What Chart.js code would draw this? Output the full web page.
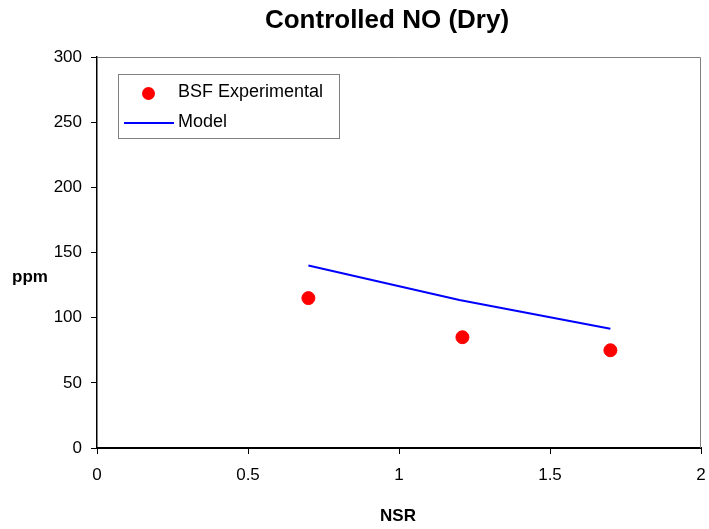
<!DOCTYPE html>
<html>
<head>
<meta charset="utf-8">
<script src="https://cdn.jsdelivr.net/npm/chart.js@4/dist/chart.umd.min.js"></script>
<style>
  html, body { margin: 0; padding: 0; background: #fff; }
  #wrap { width: 709px; height: 529px; }
</style>
</head>
<body>
<div id="wrap"><canvas id="chart" width="709" height="529"></canvas></div>
<script>
  // data
  const expNSR = [0.7, 1.21, 1.7];
  const expPPM = [115, 85, 75];
  const modelNSR = [0.7, 1.2, 1.7];
  const modelPPM = [140, 113.5, 91.5];
  const xTicks = [0, 0.5, 1, 1.5, 2];
  const xTickLabels = ['0', '0.5', '1', '1.5', '2'];
  const yTicks = [0, 50, 100, 150, 200, 250, 300];
  const yTickLabels = ['0', '50', '100', '150', '200', '250', '300'];

  const FONT = 'Arial, "Liberation Sans", sans-serif';

  // title, axis titles, frame and the boxed legend
  const decorations = {
    id: 'decorations',
    beforeDatasetsDraw(chart) {
      const ctx = chart.ctx;
      const a = chart.chartArea;
      ctx.save();
      ctx.strokeStyle = '#808080';
      ctx.lineWidth = 1;
      ctx.beginPath();
      ctx.moveTo(a.left, a.top + 0.5);
      ctx.lineTo(a.right - 0.5, a.top + 0.5);
      ctx.lineTo(a.right - 0.5, a.bottom);
      ctx.stroke();
      ctx.restore();
    },
    afterDraw(chart) {
      const ctx = chart.ctx;
      ctx.save();
      ctx.fillStyle = '#000';
      ctx.textBaseline = 'middle';

      ctx.font = 'bold 26px ' + FONT;
      ctx.textAlign = 'center';
      ctx.fillText('Controlled NO (Dry)', 387, 21);

      ctx.font = 'bold 17px ' + FONT;
      ctx.fillText('NSR', 398, 516);
      ctx.textAlign = 'left';
      ctx.fillText('ppm', 12, 277);

      // legend box
      ctx.fillStyle = '#fff';
      ctx.fillRect(118.5, 74.5, 221, 64);
      ctx.strokeStyle = '#808080';
      ctx.lineWidth = 1;
      ctx.strokeRect(118.5, 74.5, 221, 64);

      const ds = chart.data.datasets;
      ctx.fillStyle = ds[0].backgroundColor;
      ctx.beginPath();
      ctx.arc(148.5, 93.5, 6.5, 0, Math.PI * 2);
      ctx.fill();

      ctx.strokeStyle = ds[1].borderColor;
      ctx.lineWidth = 2;
      ctx.beginPath();
      ctx.moveTo(124, 123);
      ctx.lineTo(174, 123);
      ctx.stroke();

      ctx.fillStyle = '#000';
      ctx.font = '18px ' + FONT;
      ctx.fillText(ds[0].label, 178, 92);
      ctx.fillText(ds[1].label, 178, 122);
      ctx.restore();
    }
  };

  new Chart(document.getElementById('chart'), {
    type: 'scatter',
    data: {
      datasets: [{
        label: 'BSF Experimental',
        data: expNSR.map((x, i) => ({ x: x, y: expPPM[i] })),
        backgroundColor: '#ff0000',
        borderColor: '#ff0000',
        pointRadius: 6.5,
        showLine: false
      }, {
        label: 'Model',
        data: modelNSR.map((x, i) => ({ x: x, y: modelPPM[i] })),
        borderColor: '#0000ff',
        backgroundColor: '#0000ff',
        borderWidth: 2,
        pointRadius: 0,
        showLine: true,
        tension: 0
      }]
    },
    options: {
      responsive: false,
      animation: false,
      layout: { padding: { top: 57, right: 8, left: 0, bottom: 0 } },
      plugins: {
        legend: { display: false },
        title: { display: false },
        tooltip: { enabled: false }
      },
      scales: {
        x: {
          type: 'linear',
          min: 0,
          max: 2,
          afterBuildTicks: s => { s.ticks = xTicks.map(v => ({ value: v })); },
          afterFit: s => { s.height = 81; s.paddingRight = 0; s.paddingLeft = 0; },
          grid: { drawOnChartArea: false, tickLength: 6, color: '#000' },
          border: { color: '#000', width: 2 },
          ticks: {
            color: '#000', font: { family: FONT, size: 17 }, padding: 11, maxRotation: 0,
            callback: (v, i) => xTickLabels[i]
          }
        },
        y: {
          type: 'linear',
          min: 0,
          max: 300,
          afterBuildTicks: s => { s.ticks = yTicks.map(v => ({ value: v })); },
          afterFit: s => { s.width = 97; },
          grid: { drawOnChartArea: false, tickLength: 6, color: '#000' },
          border: { color: '#000', width: 1.5 },
          ticks: {
            color: '#000', font: { family: FONT, size: 17 }, padding: 9,
            callback: (v, i) => yTickLabels[i]
          }
        }
      }
    },
    plugins: [decorations]
  });
</script>
</body>
</html>
